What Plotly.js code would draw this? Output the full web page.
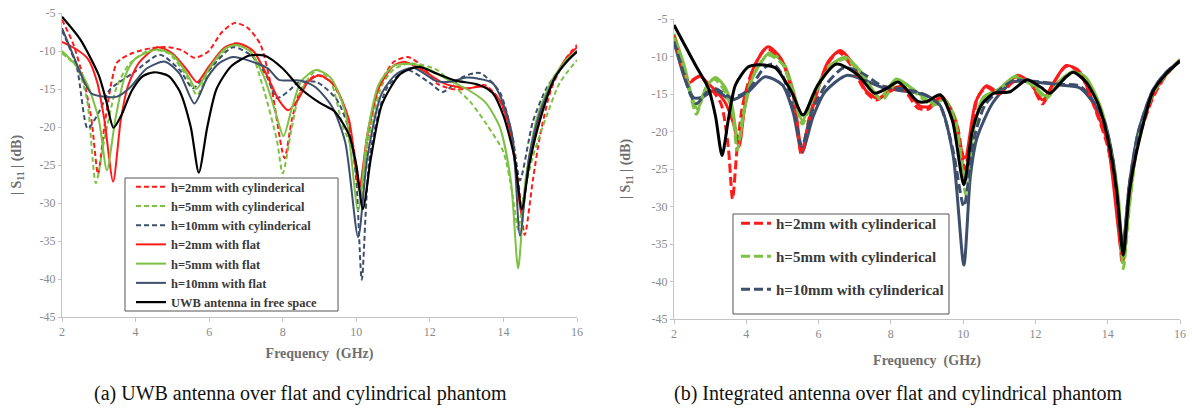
<!DOCTYPE html>
<html>
<head>
<meta charset="utf-8">
<script src="https://cdn.plot.ly/plotly-3.0.1.min.js"></script>
<style>
html,body{margin:0;padding:0;background:#fff;}
#chart{width:1192px;height:411px;}
</style>
</head>
<body>
<div id="chart"></div>
<script>
// ---------- Left chart (a): UWB antenna ----------
const aRedCylX = [2,2.3,2.6,2.8,2.98,3.15,3.35,3.5,3.9,4.45,4.9,5.26,5.6,5.97,6.35,6.7,7.06,7.4,7.7,8.05,8.25,8.5,8.9,9.3,9.6,9.9,10.1,10.3,10.6,11.0,11.4,11.8,12.2,12.6,13.0,13.5,13.9,14.2,14.4,14.58,14.8,15.0,15.3,15.7,16];
const aRedCylY = [-5.9,-9,-14,-19,-26.2,-20,-14,-11.5,-10.3,-9.6,-9.5,-9.9,-10.9,-10.1,-7.5,-6.3,-7,-9.2,-15,-24.1,-19,-15,-13.2,-14,-16.5,-22,-28,-22,-15,-11.5,-10.8,-12,-14.3,-15,-15,-14.5,-16.5,-21,-27,-34.2,-27,-21,-15,-11,-9.2];

const aGreenCylX = [2,2.4,2.68,2.92,3.15,3.49,3.85,4.4,4.9,5.4,5.67,6.0,6.65,7.1,7.46,7.84,8.0,8.25,8.47,8.93,9.3,9.64,9.9,10.12,10.35,10.7,11.0,11.46,12.2,12.63,13.1,13.55,14.0,14.25,14.4,14.55,14.8,15.17,15.53,16];
const aGreenCylY = [-10.3,-12.1,-16.4,-27.4,-21.7,-14.7,-11.6,-9.9,-10.3,-13.4,-15.8,-12.5,-9,-9.9,-14.7,-21.7,-26.1,-20,-15.5,-12.5,-14,-20,-23,-29.5,-21,-14.5,-12.5,-11.6,-12.5,-14.5,-16.7,-19.7,-23.3,-29,-33.5,-29,-23.9,-18.6,-14.2,-11.2];

const aNavyCylX = [2,2.4,2.7,3.03,3.3,3.93,4.66,5.2,5.56,5.93,6.65,7.2,7.57,7.84,8.2,8.4,8.93,9.47,9.83,10.0,10.15,10.37,10.83,11.37,12.0,12.35,12.9,13.36,13.9,14.25,14.45,14.8,15.17,15.6,16];
const aNavyCylY = [-7.3,-12.1,-20.2,-17.8,-15.1,-12.9,-10.5,-12.5,-14.9,-12.9,-9.5,-10.8,-13.4,-16.2,-15.1,-14.2,-14.1,-16.4,-20.8,-27,-40.1,-23.7,-14.9,-12.5,-14.2,-15.4,-13.4,-12.9,-15.4,-21.4,-27,-19.3,-14.9,-12,-10];

const aRedFlatX = [2,2.4,2.7,2.95,3.15,3.39,3.6,3.8,4.1,4.6,5.0,5.4,5.67,6.0,6.4,6.8,7.2,7.6,7.9,8.15,8.4,8.7,9.0,9.4,9.8,10.08,10.3,10.6,11.0,11.3,11.8,12.4,13.0,13.5,13.9,14.2,14.5,14.7,15.0,15.4,15.7,16];
const aRedFlatY = [-8.8,-9.8,-11,-14,-19,-27.2,-19,-14.5,-11.5,-9.5,-10.3,-12.5,-14.1,-12,-9.6,-9,-10,-13.5,-16.5,-17.8,-16.5,-14,-13.2,-14.5,-19,-28,-21,-15,-12,-11.4,-12.5,-14.3,-14.9,-14.7,-16.5,-21,-31.5,-24,-18.5,-13.5,-11,-9.5];

const aGreenFlatX = [2,2.4,2.7,3.0,3.22,3.45,3.7,4.0,4.6,5.0,5.4,5.65,6.0,6.4,6.7,7.1,7.5,7.8,8.02,8.25,8.5,8.9,9.3,9.7,10.05,10.3,10.6,11.0,11.5,12.0,12.5,13.0,13.5,13.9,14.2,14.4,14.6,14.9,15.3,15.7,16];
const aGreenFlatY = [-10,-12,-14.5,-19,-25.7,-19,-13.5,-11,-9.8,-10.5,-13,-15,-12.3,-9.8,-9.2,-10,-13.5,-18,-21.2,-17.5,-14,-12.5,-13.5,-18,-31,-21,-14.5,-12,-11.7,-12.5,-13.8,-15,-16.7,-20,-27,-38.6,-27,-19,-14,-11.2,-10];

const aNavyFlatX = [2,2.3,2.6,2.8,3.1,3.5,3.85,4.3,4.8,5.2,5.6,5.95,6.3,6.65,7.1,7.6,7.9,8.5,8.9,9.35,9.7,10.05,10.3,10.7,11.1,11.55,12.2,12.6,13.0,13.7,14.0,14.25,14.45,14.7,15.0,15.4,15.8,16];
const aNavyFlatY = [-7,-10.5,-14,-15.6,-16,-16,-14.8,-12.3,-11.4,-13,-16.9,-13.5,-11.5,-10.8,-11.3,-12.3,-13.8,-13.9,-14.8,-17.4,-22,-34.5,-24,-15.5,-13,-12.2,-14,-14,-13.5,-14.2,-17,-21.4,-34.3,-24,-18,-13.5,-11,-10];

const aFreeX = [2,2.5,3.0,3.2,3.4,3.6,3.9,4.2,4.5,4.9,5.2,5.5,5.72,5.95,6.2,6.6,7.1,7.5,8.0,8.5,9.0,9.4,9.8,10.0,10.18,10.4,10.7,11.2,11.7,12.2,12.7,13.3,13.7,14.0,14.3,14.5,14.7,15.0,15.4,15.7,16];
const aFreeY = [-5.5,-8.5,-13.2,-16.5,-20.1,-18.6,-15.2,-13.3,-12.8,-13.3,-15.3,-20,-26,-20,-15,-12,-10.6,-10.6,-12.3,-15,-16.8,-17.9,-21,-25,-30.8,-24,-17,-13,-12.1,-13,-13.9,-14.4,-15.5,-18.5,-24,-30.8,-25,-19,-13.5,-11.5,-10.1];

// ---------- Right chart (b): Integrated antenna ----------
const bRedCylX = [2,2.2,2.4,2.7,2.95,3.3,3.5,3.62,3.75,3.9,4.15,4.55,4.95,5.3,5.52,5.75,6.0,6.25,6.55,6.9,7.3,7.6,7.95,8.3,8.75,9.05,9.36,9.6,9.85,10.05,10.25,10.4,10.65,11.0,11.55,11.85,12.2,12.45,12.85,13.2,13.65,14.0,14.25,14.4,14.55,14.8,15.25,15.6,16];
const bRedCylY = [-7.2,-11,-13.3,-12.7,-13.8,-16.3,-22,-29,-22,-16.5,-12.1,-8.9,-10.3,-15,-23,-18,-14,-11,-9.4,-11.2,-14.7,-15.8,-14.7,-14.1,-16.9,-17,-15.5,-16.5,-19.5,-25,-19.5,-15.5,-14.1,-15,-12.7,-13.5,-16.3,-14,-11.3,-12,-17,-22,-29,-37.5,-30,-22,-15.5,-12.6,-10.5];

const bGreenCylX = [2,2.3,2.45,2.62,2.85,3.1,3.35,3.6,3.75,3.9,4.15,4.6,5.0,5.3,5.55,5.85,6.3,6.75,7.2,7.75,8.2,8.6,9.15,9.5,9.8,10.08,10.3,10.55,11.0,11.45,11.9,12.3,12.65,13.05,13.4,13.8,14.1,14.3,14.43,14.6,14.85,15.25,15.6,16];
const bGreenCylY = [-7.5,-12,-15,-17.7,-14.5,-13,-14.2,-17,-22.5,-18,-13,-9.8,-11,-15,-19,-15.5,-11.5,-10.3,-12.5,-15.8,-13.2,-14.5,-16.5,-16,-19,-28.5,-20,-16,-14.5,-12.8,-13.8,-15.6,-13.5,-12.1,-13,-17,-23,-30,-38.3,-30,-21,-15,-12.5,-10.5];

const bNavyCylX = [2,2.25,2.45,2.62,2.9,3.15,3.6,4.05,4.5,4.75,5.0,5.3,5.54,5.8,6.2,6.7,7.2,7.75,8.3,8.9,9.35,9.72,10.02,10.3,10.6,11.0,11.4,11.95,12.7,13.25,13.85,14.15,14.42,14.6,14.85,15.25,15.6,16];
const bNavyCylY = [-8,-12,-15,-16.3,-14.8,-14.3,-15.5,-14.5,-11.5,-11,-12.5,-17,-22,-17.5,-13.8,-11.5,-12.2,-13.9,-14.3,-15,-16.5,-22.5,-30,-21,-16.5,-14.5,-13.2,-13.3,-13.7,-14,-18,-24,-35.5,-27,-20,-14.5,-12.2,-10.6];

const bRedFlatX = [2,2.4,2.7,2.95,3.4,3.65,3.8,3.95,4.2,4.6,4.95,5.3,5.55,5.8,6.25,6.6,6.95,7.3,7.65,8.0,8.35,8.8,9.05,9.4,9.65,10.05,10.35,10.65,11.0,11.5,11.85,12.2,12.5,12.85,13.2,13.65,14.0,14.42,14.6,14.85,15.25,15.6,16];
const bRedFlatY = [-7,-13.5,-12.6,-13.6,-16,-19,-22,-17,-11.5,-8.7,-10.2,-15.2,-22.8,-17.5,-10.8,-9.2,-11,-14.5,-15.6,-14.4,-14,-16.6,-16.7,-15.3,-17,-23.5,-16,-13.9,-14.8,-12.5,-13.5,-15.8,-13.5,-11.2,-11.9,-16.8,-21.5,-37,-29,-21,-15.2,-12.5,-10.4];

const bGreenFlatX = [2,2.3,2.5,2.65,2.9,3.15,3.4,3.6,3.78,3.95,4.2,4.65,5.05,5.3,5.55,5.85,6.3,6.75,7.2,7.7,8.15,8.6,9.15,9.5,9.8,10.08,10.3,10.55,11.0,11.45,11.9,12.3,12.65,13.05,13.4,13.8,14.1,14.3,14.43,14.6,14.85,15.25,15.6,16];
const bGreenFlatY = [-7,-11.5,-15.5,-17,-14,-12.8,-14,-16.5,-21.5,-17,-12.5,-9.5,-11,-14.5,-18.5,-15,-11.3,-10.1,-12.2,-15.5,-13,-14.3,-16.2,-15.8,-18.5,-26.5,-19.5,-15.5,-14.3,-12.6,-13.6,-15.3,-13.3,-12,-12.8,-16.7,-22.5,-29,-37.5,-29.5,-20.7,-14.8,-12.4,-10.4];

const bNavyFlatX = [2,2.3,2.55,2.8,3.13,3.6,4.05,4.52,5.0,5.3,5.54,5.85,6.18,6.8,7.75,8.2,8.94,9.36,9.72,10.02,10.2,10.38,10.83,11.38,11.93,12.68,13.23,13.87,14.15,14.42,14.6,14.85,15.25,15.6,16];
const bNavyFlatY = [-8,-13,-15.5,-15.4,-14.5,-15.8,-14.7,-12.7,-13.8,-17.5,-22.7,-18,-14.7,-12.5,-14.1,-14.5,-15.1,-16.5,-23.1,-37.8,-26,-20.9,-16.1,-13.4,-13.4,-13.8,-14.2,-18.2,-24,-35,-27,-20,-14.5,-12.2,-10.6];

const bFreeX = [2,2.3,2.6,2.95,3.15,3.33,3.5,3.7,4.05,4.35,4.8,5.25,5.57,5.98,6.5,7.1,7.55,7.9,8.2,8.75,9.0,9.36,9.7,10.02,10.25,10.5,10.85,11.3,11.77,12.15,12.4,12.85,13.05,13.4,13.75,14.0,14.25,14.43,14.6,14.8,15.25,15.6,16];
const bFreeY = [-5.8,-8.5,-11.2,-14.2,-18,-23.2,-18.5,-13.8,-11.4,-11.1,-11.5,-14.7,-17.8,-13.8,-11,-12.5,-14.9,-14.2,-13.4,-16,-16,-15.1,-18.5,-27.1,-20,-16.5,-14.9,-14.7,-13.1,-14.1,-14.9,-12.7,-12.1,-13.4,-16.5,-20.9,-28,-36.5,-28,-22.7,-14.7,-12.4,-10.6];

// ---------- Labels ----------
const legendA = ["h=2mm with cylinderical","h=5mm with cylinderical","h=10mm with cylinderical","h=2mm with flat","h=5mm with flat","h=10mm with flat","UWB antenna in free space"];
const legendB = ["h=2mm with cylinderical","h=5mm with cylinderical","h=10mm with cylinderical"];
const xTickVals = [2,4,6,8,10,12,14,16];
const xTickText = ["2","4","6","8","10","12","14","16"];
const yTickVals = [-5,-10,-15,-20,-25,-30,-35,-40,-45];
const yTickText = ["-5","-10","-15","-20","-25","-30","-35","-40","-45"];
const captionA = "(a) UWB antenna over flat and cylindrical phantom";
const captionB = "(b) Integrated antenna over flat and cylindrical phantom";
const xTitle = "Frequency  (GHz)";
const yTitle = "| S<sub>11</sub> | (dB)";

// ---------- Styles ----------
const RED = "#ff1a1a", GREEN = "#7cc142", NAVY = "#3d4f6c", BLACK = "#000000";
const SERIF = "Liberation Serif";
const W = 1192, H = 411;

function tr(x, y, name, color, dash, width, xa, ya, legend, show, group) {
  return {
    x: x, y: y, name: name, type: "scatter", mode: "lines",
    xaxis: xa, yaxis: ya, legend: legend, showlegend: show, legendgroup: group,
    line: {color: color, dash: dash, width: width, shape: "spline", smoothing: 0.7},
    hoverinfo: "skip"
  };
}

const dA = "5px,3px";
const dB = "9px,4px";
const traces = [
  tr(aRedCylX, aRedCylY, legendA[0], RED, dA, 2, "x", "y", "legend", true, "a0"),
  tr(aGreenCylX, aGreenCylY, legendA[1], GREEN, dA, 2, "x", "y", "legend", true, "a1"),
  tr(aNavyCylX, aNavyCylY, legendA[2], NAVY, dA, 2, "x", "y", "legend", true, "a2"),
  tr(aRedFlatX, aRedFlatY, legendA[3], RED, "solid", 2, "x", "y", "legend", true, "a3"),
  tr(aGreenFlatX, aGreenFlatY, legendA[4], GREEN, "solid", 2, "x", "y", "legend", true, "a4"),
  tr(aNavyFlatX, aNavyFlatY, legendA[5], NAVY, "solid", 2, "x", "y", "legend", true, "a5"),
  tr(aFreeX, aFreeY, legendA[6], BLACK, "solid", 2.2, "x", "y", "legend", true, "a6"),

  tr(bRedFlatX, bRedFlatY, "h=2mm with flat", RED, "solid", 3, "x2", "y2", "legend2", false, "b0"),
  tr(bGreenFlatX, bGreenFlatY, "h=5mm with flat", GREEN, "solid", 3, "x2", "y2", "legend2", false, "b1"),
  tr(bNavyFlatX, bNavyFlatY, "h=10mm with flat", NAVY, "solid", 3, "x2", "y2", "legend2", false, "b2"),
  tr(bRedCylX, bRedCylY, legendB[0], RED, dB, 3, "x2", "y2", "legend2", true, "b0"),
  tr(bGreenCylX, bGreenCylY, legendB[1], GREEN, dB, 3, "x2", "y2", "legend2", true, "b1"),
  tr(bNavyCylX, bNavyCylY, legendB[2], NAVY, dB, 3, "x2", "y2", "legend2", true, "b2"),
  tr(bFreeX, bFreeY, "Integrated antenna in free space", BLACK, "solid", 3, "x2", "y2", "legend2", false, "b3")
];

function tickFont() { return {family: SERIF, size: 12, color: "#8a8a8a"}; }
function titleFont() { return {family: SERIF, size: 14, color: "#6e6e6e", weight: "bold"}; }

function xAxis(domain, anchor, standoff) {
  return {
    domain: domain, anchor: anchor, range: [2, 16], tickvals: xTickVals, ticktext: xTickText,
    showgrid: false, zeroline: false, showline: true, linecolor: "#c4c4c4", linewidth: 1,
    ticks: "outside", ticklen: 4, tickcolor: "#c4c4c4", tickfont: tickFont(),
    title: {text: xTitle, font: titleFont(), standoff: standoff}
  };
}
function yAxis(domain, anchor, standoff) {
  return {
    domain: domain, anchor: anchor, range: [-45, -5], tickvals: yTickVals, ticktext: yTickText,
    showgrid: false, zeroline: false, showline: true, linecolor: "#c4c4c4", linewidth: 1,
    ticks: "outside", ticklen: 3, tickcolor: "#c4c4c4", tickfont: tickFont(),
    title: {text: yTitle, font: titleFont(), standoff: standoff}
  };
}

// legend frames (pixel boxes converted to paper fractions)
function frame(x0, y0, x1, y1) {
  return {type: "rect", xref: "paper", yref: "paper", layer: "above",
          x0: x0/W, x1: x1/W, y0: (H-y1)/H, y1: (H-y0)/H,
          fillcolor: "#ffffff", line: {color: "#555555", width: 1}};
}

const layout = {
  width: W, height: H,
  margin: {l: 0, r: 0, t: 0, b: 0},
  paper_bgcolor: "#ffffff", plot_bgcolor: "#ffffff",
  font: {family: SERIF},
  showlegend: true,
  xaxis: xAxis([62/W, 577/W], "y", 9),
  yaxis: yAxis([94/H, 398/H], "x", 14),
  xaxis2: xAxis([674/W, 1180/W], "y2", 14),
  yaxis2: yAxis([92/H, 392/H], "x2", 17),
  legend: {
    x: 131/W, y: (H-172)/H, xanchor: "left", yanchor: "top",
    bgcolor: "rgba(0,0,0,0)", borderwidth: 0,
    font: {family: SERIF, size: 12.5, color: "#3a3a3a", weight: "bold"},
    tracegroupgap: 0, traceorder: "normal"
  },
  legend2: {
    x: 736/W, y: (H-207)/H, xanchor: "left", yanchor: "top",
    bgcolor: "rgba(0,0,0,0)", borderwidth: 0,
    font: {family: SERIF, size: 15, color: "#3a3a3a", weight: "bold"},
    tracegroupgap: 10.5, traceorder: "grouped"
  },
  shapes: [frame(125, 178, 338, 311), frame(733, 214, 949, 314)],
  annotations: [
    {text: captionA, xref: "paper", yref: "paper", x: 300/W, y: 18/H, xanchor: "center", yanchor: "middle",
     showarrow: false, font: {family: SERIF, size: 20, color: "#111111"}},
    {text: captionB, xref: "paper", yref: "paper", x: 898/W, y: 18/H, xanchor: "center", yanchor: "middle",
     showarrow: false, font: {family: SERIF, size: 20, color: "#111111"}}
  ]
};

Plotly.newPlot("chart", traces, layout, {staticPlot: true, displayModeBar: false});
</script>
</body>
</html>
